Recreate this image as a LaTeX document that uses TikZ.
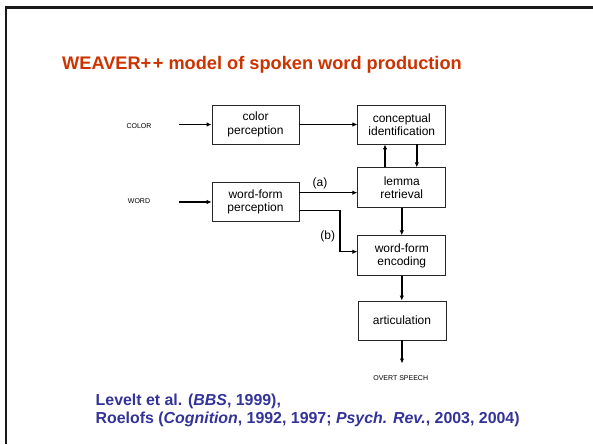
\documentclass[tikz,border=0pt]{standalone}
\usepackage{fontspec}
\setmainfont{Liberation Sans}
\usetikzlibrary{arrows.meta}
\definecolor{titlered}{HTML}{CC3300}
\definecolor{citeblue}{HTML}{333399}
\begin{document}
\begin{tikzpicture}[x=1pt,y=-1pt,
  box/.style={draw=black!85,line width=0.8pt,minimum width=87pt,minimum height=39pt,
    align=center,inner sep=1pt,font=\fontsize{12}{13.5}\selectfont},
  conn/.style={line width=1.4pt,-{Latex[length=5pt,width=4.5pt]}},
  small/.style={font=\fontsize{7}{8}\selectfont},
  lbl/.style={font=\fontsize{12}{13.5}\selectfont}]
\useasboundingbox (0,0) rectangle (593,444);
% frame
\draw[line width=2.6pt,black!90] (4.7,7.5) -- (593,7.5);
\draw[line width=2.4pt,black!90] (6,6.2) -- (6,444);
% title
\node[anchor=west,inner sep=0pt,text=titlered,font=\bfseries\fontsize{18.2}{20}\selectfont] (title) at (62,64.5) {WEAVER+\kern1.5pt+ model of spoken word production};
% boxes
\node[box] (cp) at (255.5,124.5) {color\\perception};
\node[box,minimum width=88pt] (ci) at (401.8,124.5) {conceptual\\identification};
\node[box,minimum width=88pt,minimum height=39.6pt] (lr) at (401.8,187.5) {lemma\\retrieval};
\node[box,minimum height=38.5pt] (wfp) at (255.5,202) {word-form\\perception};
\node[box,minimum width=88pt,minimum height=40pt] (wfe) at (401.8,255.7) {word-form\\encoding};
\node[box,minimum width=88pt] (art) at (402,320.5) {articulation};
% inputs
\node[small] (color) at (139,126) {COLOR};
\node[small] (word) at (139,201.5) {WORD};
\coordinate (cin) at (179,124.5);
\coordinate (win) at (179,202);
\draw[conn] (cin) -- (cp.west);
\draw[conn] (win) -- (wfp.west);
\draw[conn] (cp.east) -- (ci.west);
\draw[conn] ([xshift=-16.8pt]lr.north) -- ([xshift=-16.8pt]ci.south);
\draw[conn] ([xshift=15pt]ci.south) -- ([xshift=15pt]lr.north);
\draw[conn] ([yshift=9.3pt]wfp.east) coordinate (a0) -- (a0 -| lr.west);
\coordinate (b1) at (340,251.7);
\draw[conn] ([yshift=-8.7pt]wfp.east) -| (b1) -- (b1 -| wfe.west);
\node[lbl] (la) at (320,183) {(a)};
\node[lbl] (lb) at (327.7,236) {(b)};
\draw[conn] (lr.south) -- (lr.south |- wfe.north);
\draw[conn] (wfe.south) -- (wfe.south |- art.north);
\coordinate (os) at (402,363.5);
\draw[conn] (art.south) -- (os);
\node[small] (overt) at (400.7,377.7) {OVERT SPEECH};
% citation
\node[anchor=west,inner sep=0pt,text=citeblue,font=\bfseries\fontsize{15.9}{17.4}\selectfont] (c1) at (95.5,401.7) {Levelt et al. (\textit{BBS}, 1999),};
\node[anchor=west,inner sep=0pt,text=citeblue,font=\bfseries\fontsize{15.9}{17.4}\selectfont] (c2) at (95.5,419.2) {Roelofs (\textit{Cognition}, 1992, 1997; \textit{Psych. Rev.}, 2003, 2004)};
\end{tikzpicture}
\end{document}
